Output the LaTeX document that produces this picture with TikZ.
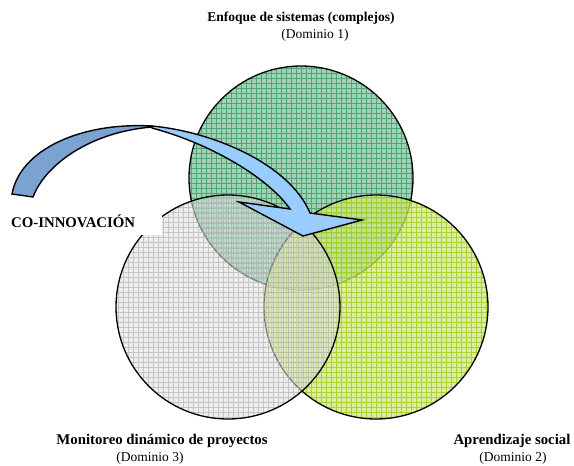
\documentclass[tikz,border=0pt]{standalone}
\usepackage{fontspec}
\setmainfont{Liberation Serif}
\definecolor{gbase}{RGB}{160,210,182}
\definecolor{gline}{RGB}{80,165,118}
\definecolor{ybase}{RGB}{208,232,125}
\definecolor{yline}{RGB}{155,205,20}
\definecolor{kbase}{RGB}{224,224,224}
\definecolor{kline}{RGB}{175,175,175}
\definecolor{arrowdark}{RGB}{122,163,209}
\definecolor{arrowlight}{RGB}{153,204,255}
\tikzset{
  venn/.style={circle, draw=black, line width=1.3pt, minimum size=224pt, inner sep=0pt},
  gridfill/.style 2 args={path picture={\draw[#1, line width=0.55pt, opacity=#2]
      (path picture bounding box.south west) grid[step=5pt] (path picture bounding box.north east);}},
  lbl/.style={font=\fontsize{13.5}{15}\selectfont\bfseries, inner sep=0pt},
  blbl/.style={font=\fontsize{14.8}{16}\selectfont\bfseries, inner sep=0pt},
  dom/.style={font=\fontsize{13.5}{15}\selectfont, inner sep=0pt},
  ribbon/.style={draw=black, line width=1.4pt, line join=miter},
}
\begin{document}
\begin{tikzpicture}[x=1pt,y=-1pt]
\useasboundingbox (0,0) rectangle (574,466);
% circles
\node[venn, fill=gbase, gridfill={gline}{1}] (sys) at (301,178) {};
\node[venn, fill=ybase, fill opacity=0.75, gridfill={yline}{0.8}] (soc) at (376,307) {};
\node[venn, fill=kbase, fill opacity=0.55, gridfill={kline}{0.65}] (mon) at (228,307) {};
% label box
\node[fill=white, anchor=north west, minimum width=162pt, minimum height=29pt, inner sep=0pt] (box) at (0,206) {};
\node[blbl, anchor=west] (coin) at (11,221) {CO-INNOVACIÓN};
% arrow
\draw[ribbon, fill=arrowdark] (12,194) .. controls (20,150) and (80,122) .. (152,126)
   -- (152,127) .. controls (90,132) and (45,165) .. (33,197) -- cycle;
\draw[ribbon, fill=arrowlight] (152,126) .. controls (215,132) and (290,165) .. (310,213)
   -- (362,220) -- (303,236) -- (239,202) -- (290,209)
   .. controls (270,180) and (215,145) .. (152,128) -- cycle;
% titles
\node[lbl] (t1) at (301,18) {Enfoque de sistemas (complejos)};
\node[dom] (d1) at (315,35) {(Dominio 1)};
\node[blbl] (t3) at (162,441) {Monitoreo dinámico de proyectos};
\node[dom] (d3) at (150,458) {(Dominio 3)};
\node[blbl] (t2) at (512,441) {Aprendizaje social};
\node[dom] (d2) at (513,458) {(Dominio 2)};
\end{tikzpicture}
\end{document}
